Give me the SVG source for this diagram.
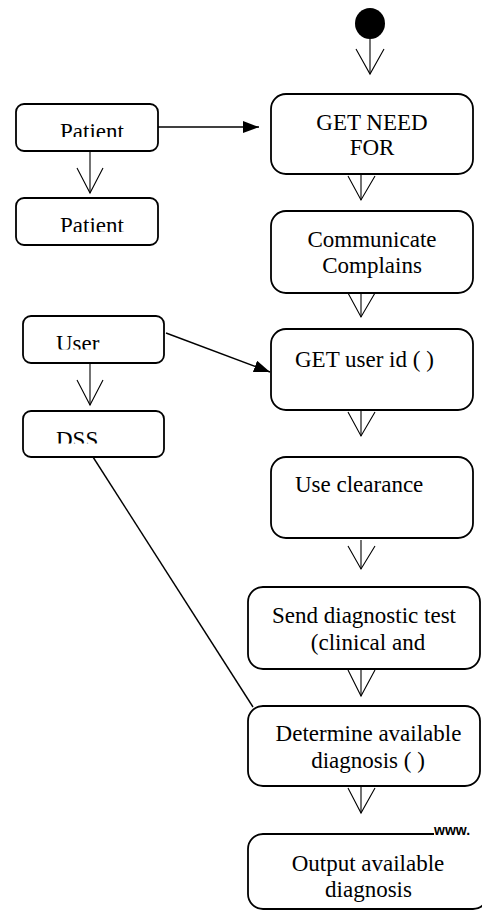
<svg xmlns="http://www.w3.org/2000/svg" width="482" height="911" viewBox="0 0 482 911">
<style>
.box{fill:#fff;stroke:#000;stroke-width:1.8}
.t{font-size:23px;fill:#000}
.c{text-anchor:middle}
.ln{stroke:#000;stroke-width:1.4;fill:none}
.v{stroke:#000;stroke-width:1.1;fill:none}
</style>
<defs>
<marker id="fa" markerWidth="16" markerHeight="12" refX="16" refY="6" orient="auto" markerUnits="userSpaceOnUse">
<path d="M0,0 L16,6 L0,12 Z" fill="#000"/>
</marker>
<clipPath id="cp1"><rect x="16" y="104" width="142" height="33"/></clipPath>
<clipPath id="cp2"><rect x="16" y="198" width="142" height="34"/></clipPath>
<clipPath id="cp3"><rect x="23" y="316" width="141" height="33.5"/></clipPath>
<clipPath id="cp4"><rect x="23" y="411" width="141" height="32.5"/></clipPath>
</defs>
<g id="connectors">
<line class="ln" x1="158" y1="127" x2="259" y2="127" marker-end="url(#fa)"/>
<line class="ln" x1="166" y1="333" x2="270" y2="372" marker-end="url(#fa)"/>
<line class="ln" x1="93" y1="457" x2="253" y2="707"/>
<line class="v" x1="370" y1="39" x2="370" y2="74"/>
<polyline class="v" points="356,49 370,74 384,49"/>
<line class="v" x1="90" y1="152" x2="90" y2="193"/>
<polyline class="v" points="77,168 90,193 103,168"/>
<line class="v" x1="90" y1="363" x2="90" y2="405"/>
<polyline class="v" points="77,380 90,405 103,380"/>
<line class="v" x1="361" y1="174" x2="361" y2="200"/>
<polyline class="v" points="348,176 361,200 375,176"/>
<line class="v" x1="361" y1="293" x2="361" y2="317"/>
<polyline class="v" points="348,293 361,317 375,293"/>
<line class="v" x1="361" y1="410" x2="361" y2="436"/>
<polyline class="v" points="348,412 361,436 375,412"/>
<line class="v" x1="361" y1="540" x2="361" y2="569"/>
<polyline class="v" points="348,546 361,569 375,546"/>
<line class="v" x1="361" y1="669" x2="361" y2="696"/>
<polyline class="v" points="348,670 361,696 375,670"/>
<line class="v" x1="361" y1="786" x2="361" y2="813"/>
<polyline class="v" points="348,788 361,813 375,788"/>
</g>
<g id="start"><ellipse cx="370" cy="23.5" rx="15" ry="15.5" fill="#000"/></g>
<g font-family="'Liberation Serif', 'Times New Roman', 'DejaVu Serif', serif">
<g id="patient1">
<rect class="box" x="16" y="104" width="142" height="47" rx="8"/>
<text class="t" x="60" y="139" clip-path="url(#cp1)">Patient</text>
</g>
<g id="patient2">
<rect class="box" x="16" y="198" width="142" height="47" rx="8"/>
<text class="t" x="60" y="233" clip-path="url(#cp2)">Patient</text>
</g>
<g id="user">
<rect class="box" x="23" y="316" width="141" height="47" rx="8"/>
<text class="t" x="56" y="351" clip-path="url(#cp3)">User</text>
</g>
<g id="dss">
<rect class="box" x="23" y="411" width="141" height="46" rx="8"/>
<text class="t" x="56" y="447" clip-path="url(#cp4)">DSS</text>
</g>
<g id="getneed">
<rect class="box" x="271" y="94" width="202" height="80" rx="15"/>
<text class="t c" x="372" y="130">GET NEED</text>
<text class="t c" x="372" y="155">FOR</text>
</g>
<g id="communicate">
<rect class="box" x="271" y="211" width="202" height="82" rx="15"/>
<text class="t c" x="372" y="247">Communicate</text>
<text class="t c" x="372" y="273">Complains</text>
</g>
<g id="getuserid">
<rect class="box" x="271" y="329" width="202" height="81" rx="15"/>
<text class="t" x="295" y="367">GET user id ( )</text>
</g>
<g id="useclearance">
<rect class="box" x="271" y="457" width="202" height="81" rx="15"/>
<text class="t" x="295" y="492">Use clearance</text>
</g>
<g id="senddiag">
<rect class="box" x="248" y="587" width="232" height="82" rx="15"/>
<text class="t c" x="364" y="623">Send diagnostic test</text>
<text class="t c" x="368" y="650">(clinical and</text>
</g>
<g id="determine">
<rect class="box" x="248" y="706" width="232" height="80" rx="15"/>
<text class="t c" x="368.5" y="741">Determine available</text>
<text class="t c" x="368" y="768">diagnosis ( )</text>
</g>
<g id="output">
<rect class="box" x="248" y="834" width="240" height="75" rx="15"/>
<text class="t c" x="368" y="871">Output available</text>
<text class="t c" x="368.5" y="897">diagnosis</text>
</g>
</g>
<g id="watermark">
<rect x="434" y="822" width="48" height="18" fill="#fff"/>
<text x="434" y="835" font-family="'Liberation Sans', Arial, sans-serif" font-size="14" font-weight="bold" fill="#000">www.</text>
</g>
</svg>
